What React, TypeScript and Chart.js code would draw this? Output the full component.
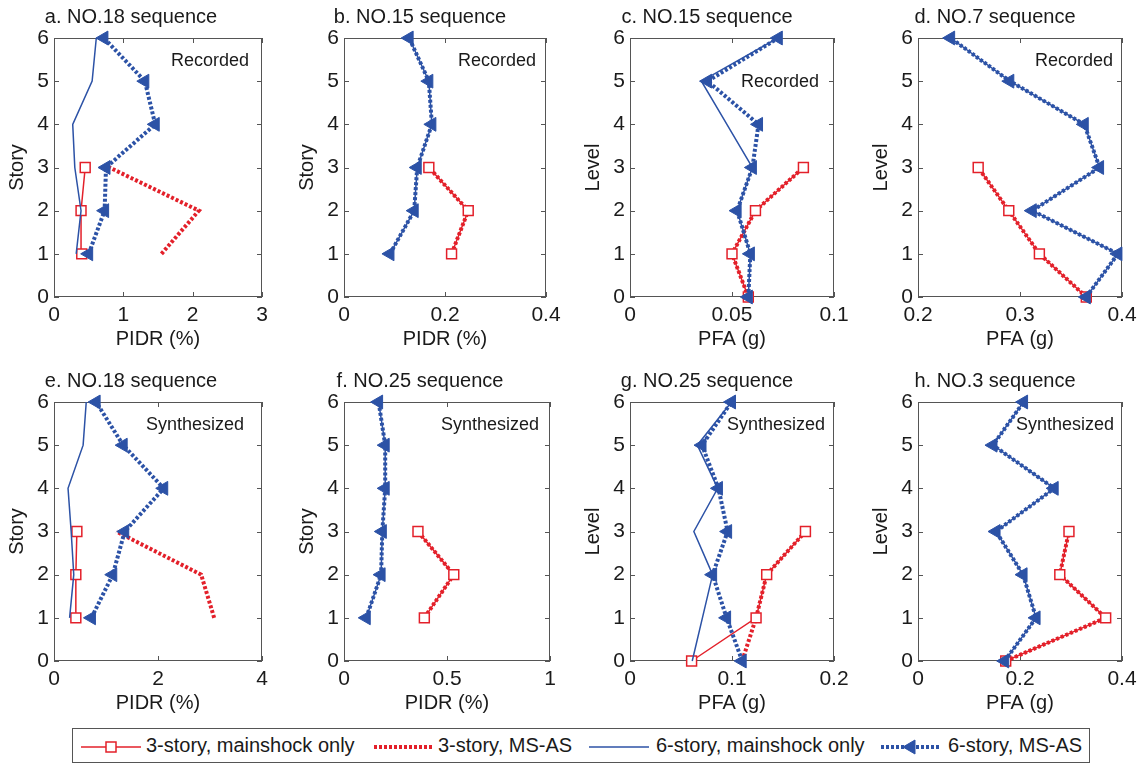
import React, { useEffect, useRef } from 'react';
import { Chart, registerables } from 'chart.js';

Chart.register(...registerables);

const FONT = "'Liberation Sans', Arial, Helvetica, sans-serif";
const RED = '#e3202a';
const BLUE = '#2c52a6';
const TEXT = '#1a1a1a';
const AXIS = '#555555';

// ---- levels / ticks ----
const storyLevels3 = [1, 2, 3];
const storyLevels6 = [1, 2, 3, 4, 5, 6];
const floorLevels3 = [0, 1, 2, 3];
const floorLevels6 = [0, 1, 2, 3, 4, 5, 6];
const yTicks = [0, 1, 2, 3, 4, 5, 6];

const aXTicks = [0, 1, 2, 3];
const bXTicks = [0, 0.2, 0.4];
const cXTicks = [0, 0.05, 0.1];
const dXTicks = [0.2, 0.3, 0.4];
const eXTicks = [0, 2, 4];
const fXTicks = [0, 0.5, 1];
const gXTicks = [0, 0.1, 0.2];
const hXTicks = [0, 0.2, 0.4];

// ---- a. NO.18 recorded (PIDR %) ----
const aMain3 = [0.40, 0.39, 0.45];
const aMsas3 = [1.55, 2.09, 0.80];
const aMain6 = [0.32, 0.39, 0.30, 0.27, 0.55, 0.61];
const aMsas6 = [0.50, 0.73, 0.75, 1.46, 1.31, 0.72];

// ---- b. NO.15 recorded (PIDR %) ----
const bMain3 = [0.213, 0.246, 0.168];
const bMsas3 = [0.213, 0.246, 0.168];
const bMain6 = [0.091, 0.139, 0.145, 0.174, 0.168, 0.129];
const bMsas6 = [0.091, 0.139, 0.145, 0.174, 0.168, 0.129];

// ---- c. NO.15 recorded (PFA g) ----
const cMain3 = [0.058, 0.050, 0.0615, 0.085];
const cMsas3 = [0.058, 0.050, 0.0615, 0.085];
const cMain6 = [0.058, 0.059, 0.0525, 0.060, 0.0475, 0.035, 0.0725];
const cMsas6 = [0.058, 0.059, 0.0525, 0.060, 0.063, 0.038, 0.0727];

// ---- d. NO.7 recorded (PFA g) ----
const dMain3 = [0.365, 0.319, 0.289, 0.259];
const dMsas3 = [0.365, 0.319, 0.289, 0.259];
const dMain6 = [0.365, 0.396, 0.312, 0.378, 0.363, 0.290, 0.232];
const dMsas6 = [0.365, 0.396, 0.312, 0.378, 0.363, 0.290, 0.232];

// ---- e. NO.18 synthesized (PIDR %) ----
const eMain3 = [0.42, 0.42, 0.44];
const eMsas3 = [3.08, 2.83, 1.20];
const eMain6 = [0.30, 0.38, 0.33, 0.27, 0.56, 0.62];
const eMsas6 = [0.72, 1.13, 1.36, 2.11, 1.33, 0.81];

// ---- f. NO.25 synthesized (PIDR %) ----
const fMain3 = [0.39, 0.533, 0.359];
const fMsas3 = [0.39, 0.533, 0.359];
const fMain6 = [0.108, 0.18, 0.186, 0.20, 0.20, 0.168];
const fMsas6 = [0.108, 0.18, 0.186, 0.20, 0.20, 0.168];

// ---- g. NO.25 synthesized (PFA g) ----
const gMain3 = [0.0604, 0.1236, 0.134, 0.172];
const gMsas3 = [0.110, 0.1236, 0.134, 0.172];
const gMain6 = [0.061, 0.071, 0.081, 0.0626, 0.086, 0.066, 0.0995];
const gMsas6 = [0.110, 0.0947, 0.081, 0.0957, 0.0867, 0.0706, 0.0995];

// ---- h. NO.3 synthesized (PFA g) ----
const hMain3 = [0.172, 0.368, 0.278, 0.296];
const hMsas3 = [0.172, 0.368, 0.278, 0.296];
const hMain6 = [0.170, 0.2315, 0.206, 0.153, 0.267, 0.147, 0.207];
const hMsas6 = [0.170, 0.2315, 0.206, 0.153, 0.267, 0.147, 0.207];

const legendLabels = ['3-story, mainshock only', '3-story, MS-AS', '6-story, mainshock only', '6-story, MS-AS'];

// ---- layout (styles only) ----
const Y_W = 54;
const PAD_R = 16;
const CANVAS_H = 355;
const X_H = 58;

type PanelCfg = {
  title: string; xLabel: string; yLabel: string; note: string;
  xTicks: number[]; lv3: number[]; lv6: number[];
  main3: number[]; msas3: number[]; main6: number[]; msas6: number[];
  left: number; top: number; plotW: number; noteDx: number; noteDy: number;
};

const panels: PanelCfg[] = [
  { title: 'a. NO.18 sequence', xLabel: 'PIDR (%)', yLabel: 'Story', note: 'Recorded', xTicks: aXTicks, lv3: storyLevels3, lv6: storyLevels6, main3: aMain3, msas3: aMsas3, main6: aMain6, msas6: aMsas6, left: 0, top: 0, plotW: 208, noteDx: 13, noteDy: 23 },
  { title: 'b. NO.15 sequence', xLabel: 'PIDR (%)', yLabel: 'Story', note: 'Recorded', xTicks: bXTicks, lv3: storyLevels3, lv6: storyLevels6, main3: bMain3, msas3: bMsas3, main6: bMain6, msas6: bMsas6, left: 290, top: 0, plotW: 206, noteDx: 10, noteDy: 23 },
  { title: 'c. NO.15 sequence', xLabel: 'PFA (g)', yLabel: 'Level', note: 'Recorded', xTicks: cXTicks, lv3: floorLevels3, lv6: floorLevels6, main3: cMain3, msas3: cMsas3, main6: cMain6, msas6: cMsas6, left: 576, top: 0, plotW: 208, noteDx: 15, noteDy: 44 },
  { title: 'd. NO.7 sequence', xLabel: 'PFA (g)', yLabel: 'Level', note: 'Recorded', xTicks: dXTicks, lv3: floorLevels3, lv6: floorLevels6, main3: dMain3, msas3: dMsas3, main6: dMain6, msas6: dMsas6, left: 864, top: 0, plotW: 208, noteDx: 9, noteDy: 23 },
  { title: 'e. NO.18 sequence', xLabel: 'PIDR (%)', yLabel: 'Story', note: 'Synthesized', xTicks: eXTicks, lv3: storyLevels3, lv6: storyLevels6, main3: eMain3, msas3: eMsas3, main6: eMain6, msas6: eMsas6, left: 0, top: 364, plotW: 208, noteDx: 18, noteDy: 23 },
  { title: 'f. NO.25 sequence', xLabel: 'PIDR (%)', yLabel: 'Story', note: 'Synthesized', xTicks: fXTicks, lv3: storyLevels3, lv6: storyLevels6, main3: fMain3, msas3: fMsas3, main6: fMain6, msas6: fMsas6, left: 290, top: 364, plotW: 206, noteDx: 11, noteDy: 23 },
  { title: 'g. NO.25 sequence', xLabel: 'PFA (g)', yLabel: 'Level', note: 'Synthesized', xTicks: gXTicks, lv3: floorLevels3, lv6: floorLevels6, main3: gMain3, msas3: gMsas3, main6: gMain6, msas6: gMsas6, left: 576, top: 364, plotW: 208, noteDx: 9, noteDy: 23 },
  { title: 'h. NO.3 sequence', xLabel: 'PFA (g)', yLabel: 'Level', note: 'Synthesized', xTicks: hXTicks, lv3: floorLevels3, lv6: floorLevels6, main3: hMain3, msas3: hMsas3, main6: hMain6, msas6: hMsas6, left: 864, top: 364, plotW: 208, noteDx: 8, noteDy: 23 },
];

const boxPlugin = {
  id: 'panelBox',
  beforeDatasetsDraw(chart: any, _args: any, opts: any) {
    const { ctx, chartArea } = chart;
    const { left, right, top, bottom } = chartArea;
    const xs = chart.scales.x;
    const ys = chart.scales.y;
    ctx.save();
    ctx.strokeStyle = AXIS;
    ctx.lineWidth = 1;
    ctx.strokeRect(left + 0.5, top + 0.5, right - left - 1, bottom - top - 1);
    const tl = 5;
    ctx.beginPath();
    for (const t of ys.ticks) {
      const py = Math.round(ys.getPixelForValue(t.value)) + 0.5;
      ctx.moveTo(left, py); ctx.lineTo(left + tl, py);
      ctx.moveTo(right, py); ctx.lineTo(right - tl, py);
    }
    for (const t of xs.ticks) {
      const px = Math.round(xs.getPixelForValue(t.value)) + 0.5;
      ctx.moveTo(px, bottom); ctx.lineTo(px, bottom - tl);
      ctx.moveTo(px, top); ctx.lineTo(px, top + tl);
    }
    ctx.stroke();
    ctx.restore();
  },
  afterDraw(chart: any, _args: any, opts: any) {
    if (!opts || !opts.note) return;
    const { ctx, chartArea } = chart;
    ctx.save();
    ctx.font = `18px ${FONT}`;
    ctx.fillStyle = TEXT;
    ctx.textAlign = 'right';
    ctx.textBaseline = 'middle';
    ctx.fillText(opts.note, chartArea.right - opts.dx, chartArea.top + opts.dy);
    ctx.restore();
  },
};

function toPts(xs: number[], ys: number[]) {
  return xs.map((x, i) => ({ x, y: ys[i] }));
}

function Panel({ p }: { p: PanelCfg }) {
  const ref = useRef<HTMLCanvasElement>(null);
  const w = Y_W + p.plotW + PAD_R;
  useEffect(() => {
    if (!ref.current) return;
    const chart = new Chart(ref.current, {
      type: 'scatter',
      data: {
        datasets: [
          {
            label: legendLabels[0], data: toPts(p.main3, p.lv3), showLine: true,
            borderColor: RED, borderWidth: 1.5, pointStyle: 'rect', pointRadius: 7, pointHoverRadius: 7,
            pointBackgroundColor: '#ffffff', pointBorderColor: RED, pointBorderWidth: 1.5, order: 2, clip: false,
          } as any,
          {
            label: legendLabels[1], data: toPts(p.msas3, p.lv3), showLine: true,
            borderColor: RED, borderWidth: 4, borderDash: [3, 2], pointRadius: 0, pointHoverRadius: 0, order: 3, clip: false,
          } as any,
          {
            label: legendLabels[2], data: toPts(p.main6, p.lv6), showLine: true,
            borderColor: BLUE, borderWidth: 1.5, pointRadius: 0, pointHoverRadius: 0, order: 1, clip: false,
          } as any,
          {
            label: legendLabels[3], data: toPts(p.msas6, p.lv6), showLine: true,
            borderColor: BLUE, borderWidth: 4, borderDash: [3, 2], pointStyle: 'triangle', pointRotation: -90,
            pointRadius: 8, pointHoverRadius: 8, pointBackgroundColor: BLUE, pointBorderColor: BLUE, pointBorderWidth: 1,
            order: 0, clip: false,
          } as any,
        ],
      },
      options: {
        responsive: false,
        maintainAspectRatio: false,
        animation: false,
        events: [],
        layout: { padding: { left: 0, right: PAD_R, top: 0, bottom: 0 } },
        plugins: {
          legend: { display: false },
          tooltip: { enabled: false },
          title: {
            display: true, text: p.title, color: TEXT,
            font: { family: FONT, size: 20, weight: 'normal' as any },
            padding: { top: 5, bottom: 9 },
          },
          panelBox: { note: p.note, dx: p.noteDx, dy: p.noteDy },
        } as any,
        scales: {
          x: {
            type: 'linear',
            min: p.xTicks[0],
            max: p.xTicks[p.xTicks.length - 1],
            afterBuildTicks: (axis: any) => { axis.ticks = p.xTicks.map((v) => ({ value: v })); },
            afterFit: (axis: any) => { axis.height = X_H; },
            ticks: {
              callback: (v: any) => String(v), color: TEXT, padding: 5.4, maxRotation: 0, autoSkip: false,
              font: { family: FONT, size: 21 },
            },
            grid: { display: false, drawTicks: false },
            border: { display: false },
            title: {
              display: true, text: p.xLabel, color: TEXT,
              font: { family: FONT, size: 20 }, padding: { top: 0, bottom: 4 },
            },
          },
          y: {
            type: 'linear',
            min: 0,
            max: 6,
            afterBuildTicks: (axis: any) => { axis.ticks = yTicks.map((v) => ({ value: v })); },
            afterFit: (axis: any) => { axis.width = Y_W; },
            ticks: {
              callback: (v: any) => String(v), color: TEXT, padding: 5, autoSkip: false,
              font: { family: FONT, size: 21 },
            },
            grid: { display: false, drawTicks: false },
            border: { display: false },
            title: {
              display: true, text: p.yLabel, color: TEXT,
              font: { family: FONT, size: 20 }, padding: { top: 5, bottom: 0 },
            },
          },
        },
      } as any,
      plugins: [boxPlugin as any],
    });
    return () => chart.destroy();
  }, []);
  return (
    <canvas
      ref={ref}
      width={w}
      height={CANVAS_H}
      style={{ position: 'absolute', left: p.left, top: p.top, width: w, height: CANVAS_H }}
    />
  );
}

function Sample({ kind }: { kind: number }) {
  const W = 60;
  return (
    <svg width={W} height={20} style={{ position: 'absolute', top: 8 }}>
      {kind === 0 && (
        <g>
          <line x1={0} y1={10} x2={W} y2={10} stroke={RED} strokeWidth={1.5} />
          <rect x={25} y={5} width={10} height={10} fill="#fff" stroke={RED} strokeWidth={1.5} />
        </g>
      )}
      {kind === 1 && <line x1={0} y1={10} x2={W} y2={10} stroke={RED} strokeWidth={4} strokeDasharray="3 2" />}
      {kind === 2 && <line x1={0} y1={10} x2={W} y2={10} stroke={BLUE} strokeWidth={1.5} />}
      {kind === 3 && (
        <g>
          <line x1={0} y1={10} x2={W} y2={10} stroke={BLUE} strokeWidth={4} strokeDasharray="3 2" />
          <polygon points="22,10 34,3 34,17" fill={BLUE} stroke={BLUE} strokeWidth={1} />
        </g>
      )}
    </svg>
  );
}

const legendSampleX = [8, 301, 516, 808];
const legendTextX = [73, 365, 583, 875];

function Legend() {
  return (
    <div
      style={{
        position: 'absolute', left: 72, top: 728, width: 1018, height: 35,
        border: `1px solid ${AXIS}`, background: '#fff', boxSizing: 'border-box',
        fontFamily: FONT, fontSize: 20, color: TEXT,
      }}
    >
      {legendLabels.map((lab, i) => (
        <React.Fragment key={lab}>
          <div style={{ position: 'absolute', left: legendSampleX[i], top: 0 }}>
            <Sample kind={i} />
          </div>
          <div style={{ position: 'absolute', left: legendTextX[i], top: 0, lineHeight: '33px', whiteSpace: 'nowrap' }}>
            {lab}
          </div>
        </React.Fragment>
      ))}
    </div>
  );
}

export default function App() {
  return (
    <div style={{ position: 'absolute', left: 0, top: 0, width: 1147, height: 765, background: '#fff', overflow: 'hidden' }}>
      {panels.map((p) => (
        <Panel key={p.title} p={p} />
      ))}
      <Legend />
    </div>
  );
}
